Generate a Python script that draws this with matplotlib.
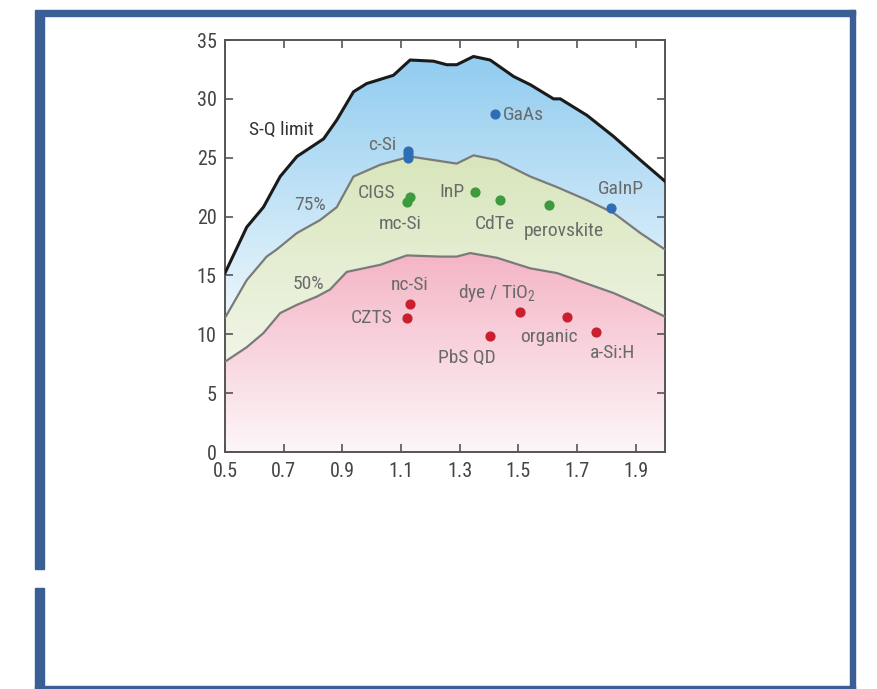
import matplotlib
matplotlib.use('Agg')
import matplotlib.pyplot as plt
import matplotlib.patches as patches
from matplotlib.colors import to_rgb
import numpy as np

# band gap (eV) vs efficiency (%)
sq_x = [0.5, 0.574, 0.631, 0.688, 0.745, 0.836, 0.881, 0.938, 0.983, 1.074, 1.131, 1.211, 1.256, 1.29, 1.347, 1.404, 1.484, 1.541, 1.62, 1.643, 1.734, 1.825, 1.916, 2.0]
sq_y = [15.2, 19.1, 20.8, 23.4, 25.1, 26.6, 28.2, 30.6, 31.3, 32.0, 33.3, 33.2, 32.9, 32.9, 33.6, 33.3, 31.9, 31.2, 30.0, 30.0, 28.6, 26.8, 24.8, 23.0]

p75_x = [0.5, 0.574, 0.642, 0.676, 0.745, 0.824, 0.881, 0.938, 1.029, 1.131, 1.211, 1.29, 1.347, 1.427, 1.541, 1.632, 1.734, 1.825, 1.916, 2.0]
p75_y = [11.4, 14.6, 16.6, 17.2, 18.6, 19.7, 20.8, 23.4, 24.4, 25.1, 24.8, 24.5, 25.2, 24.8, 23.4, 22.5, 21.4, 20.3, 18.6, 17.2]

p50_x = [0.5, 0.574, 0.631, 0.688, 0.745, 0.813, 0.858, 0.915, 1.029, 1.12, 1.233, 1.29, 1.336, 1.427, 1.541, 1.632, 1.734, 1.825, 1.916, 2.0]
p50_y = [7.67, 8.9, 10.1, 11.8, 12.5, 13.2, 13.8, 15.3, 15.9, 16.7, 16.6, 16.6, 16.9, 16.5, 15.6, 15.2, 14.3, 13.5, 12.5, 11.5]

blue_x = [1.421, 1.124, 1.124, 1.124, 1.816]
blue_y = [28.7, 25.6, 25.3, 25.0, 20.7]
green_x = [1.13, 1.122, 1.351, 1.436, 1.603]
green_y = [21.7, 21.2, 22.1, 21.4, 21.0]
red_x = [1.131, 1.122, 1.404, 1.504, 1.666, 1.765]
red_y = [12.6, 11.4, 9.86, 11.9, 11.5, 10.2]

labels = ['S-Q limit', 'c-Si', 'GaAs', 'GaInP', '75%', 'CIGS', 'mc-Si', 'InP', 'CdTe', 'perovskite',
          '50%', 'nc-Si', 'CZTS', 'dye / TiO$_2$', 'PbS QD', 'organic', 'a-Si:H']
label_x = [0.693, 1.035, 1.518, 1.848, 0.79, 1.017, 1.097, 1.274, 1.421, 1.655,
           0.784, 1.131, 1.0, 1.427, 1.324, 1.603, 1.82]
label_y = [27.4, 26.1, 28.6, 22.3, 21.0, 22.0, 19.4, 22.1, 19.4, 18.8,
           14.3, 14.2, 11.4, 13.5, 8.0, 9.8, 8.4]

fnt = ['Roboto Condensed', 'Liberation Sans Narrow', 'DejaVu Sans']
plt.rcParams['mathtext.fontset'] = 'custom'
plt.rcParams['mathtext.rm'] = 'Roboto Condensed'

fig = plt.figure(figsize=(8.78, 6.89), dpi=100)

# blue frame round the picture
W, H = 878.0, 689.0
frame = '#3a5f95'
fig.patches.append(patches.Rectangle((35/W, 1-16/H), 820/W, 6/H, transform=fig.transFigure, color=frame))
fig.patches.append(patches.Rectangle((850/W, 0), 5/W, 1-10/H, transform=fig.transFigure, color=frame))
fig.patches.append(patches.Rectangle((35/W, 0), 820/W, 3/H, transform=fig.transFigure, color=frame))
fig.patches.append(patches.Rectangle((35/W, 1-569/H), 9/W, 553/H, transform=fig.transFigure, color=frame))
fig.patches.append(patches.Rectangle((35/W, 0), 9/W, 1-588/H, transform=fig.transFigure, color=frame))

ax = fig.add_axes([225/W, 1-452/H, 440/W, 412/H])

def gradient_fill(x, ylo, yhi, c_top, c_bot, y_top, y_bot):
    poly = ax.fill_between(x, ylo, yhi, color='none', lw=0)
    yy = np.linspace(35, 0, 300)
    t = np.clip((yy - y_bot) / (y_top - y_bot), 0, 1)[:, None]
    ct = np.array(to_rgb(c_top))
    cb = np.array(to_rgb(c_bot))
    img = (cb + (ct - cb) * t)[:, None, :] * np.ones((1, 2, 1))
    im = ax.imshow(img, extent=[0.5, 2.0, 0, 35], aspect='auto', zorder=1, interpolation='bilinear')
    im.set_clip_path(poly.get_paths()[0], transform=ax.transData)

xs = np.linspace(0.5, 2.0, 400)
sq_i = np.interp(xs, sq_x, sq_y)
p75_i = np.interp(xs, p75_x, p75_y)
p50_i = np.interp(xs, p50_x, p50_y)

gradient_fill(xs, p75_i, sq_i, '#93cdf0', '#eef7fc', 33, 11)
gradient_fill(xs, p50_i, p75_i, '#d8e6bc', '#f0f5e6', 25, 8)
gradient_fill(xs, 0, p50_i, '#f4b4c5', '#fdf6f8', 17, 0)

ax.plot(sq_x, sq_y, color='#1a1a1a', lw=2.2, zorder=3)
ax.plot(p75_x, p75_y, color='#7a7a7a', lw=1.6, zorder=3)
ax.plot(p50_x, p50_y, color='#7a7a7a', lw=1.6, zorder=3)

ax.scatter(blue_x, blue_y, s=40, color='#2f6db5', zorder=4)
ax.scatter(green_x, green_y, s=40, color='#3d9a3d', zorder=4)
ax.scatter(red_x, red_y, s=40, color='#c8202e', zorder=4)

for i in range(len(labels)):
    c = '#6a6a6a'
    if labels[i] == 'S-Q limit':
        c = '#333333'
    ax.text(label_x[i], label_y[i], labels[i], ha='center', va='center', fontsize=14,
            color=c, family=fnt, zorder=5)

ax.set_xlim(0.5, 2.0)
ax.set_ylim(0, 35)
ax.set_xticks([0.5, 0.7, 0.9, 1.1, 1.3, 1.5, 1.7, 1.9])
ax.set_xticklabels(['0.5', '0.7', '0.9', '1.1', '1.3', '1.5', '1.7', '1.9'])
ax.set_yticks([0, 5, 10, 15, 20, 25, 30, 35])
ax.tick_params(direction='in', top=True, right=True, length=6, width=1.2, color='#555555',
               labelsize=14.5, labelcolor='#444444')
ax.tick_params(axis='x', pad=7)
ax.tick_params(axis='y', pad=6)
for lab in ax.get_xticklabels() + ax.get_yticklabels():
    lab.set_family(fnt)
for s in ax.spines.values():
    s.set_color('#555555')
    s.set_linewidth(1.4)

fig.savefig('out.png', dpi=100)
